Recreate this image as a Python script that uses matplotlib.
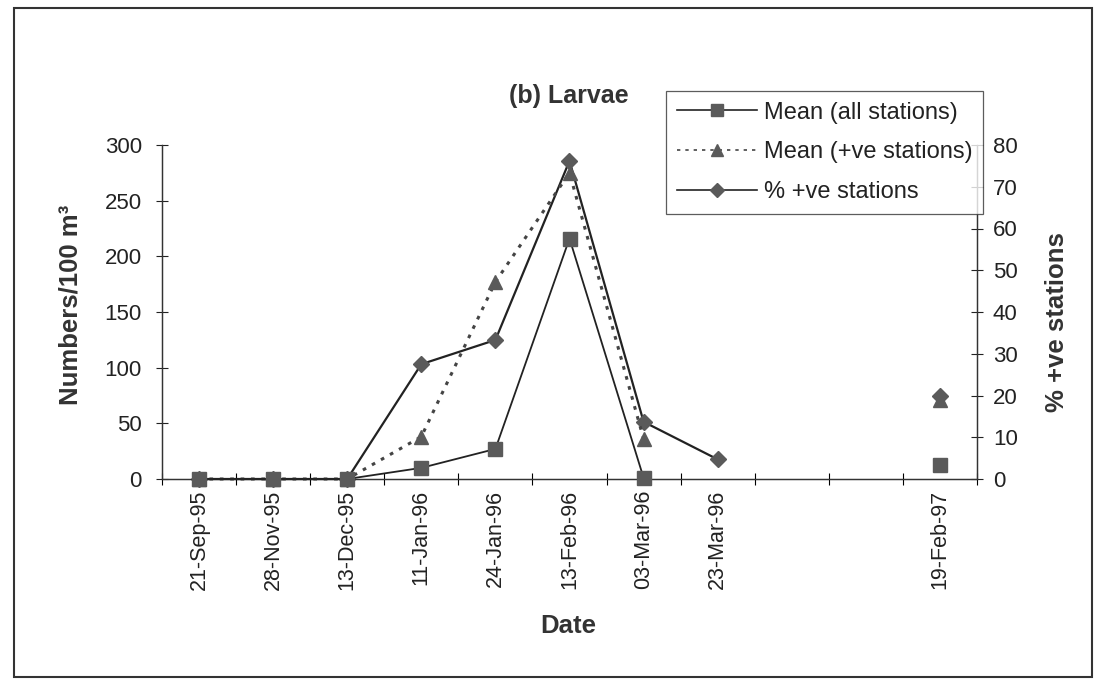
import matplotlib
matplotlib.use("Agg")
import matplotlib.pyplot as plt
from matplotlib.patches import Rectangle
from matplotlib.lines import Line2D
import numpy as np

plt.rcParams['font.family'] = ['Liberation Sans', 'DejaVu Sans']

# category slots on the x axis (two empty slots before the 1997 sample)
dates = ['21-Sep-95', '28-Nov-95', '13-Dec-95', '11-Jan-96', '24-Jan-96',
         '13-Feb-96', '03-Mar-96', '23-Mar-96', '', '', '19-Feb-97']
nan = np.nan
mean_all = [0, 0, 0, 10, 27, 216, 1, nan, nan, nan, 13]
mean_pos = [0, 0, 0, 38, 177, 275, 36, nan, nan, nan, 71]
pct_pos = [0, 0, 0, 27.5, 33.3, 76.2, 13.7, 4.7, nan, nan, 20]

txt = '#222222'
mk = '#5a5a5a'
x = np.arange(len(dates))

fig = plt.figure(figsize=(11.02, 6.83), dpi=100)
ax = fig.add_axes([162/1102, 1 - 479/683, 815/1102, 334/683])
ax2 = ax.twinx()
# left axis in front so the squares cover the zero diamonds
ax.set_zorder(ax2.get_zorder() + 1)
ax.patch.set_visible(False)

ax.plot(x, mean_pos, color='#444444', lw=2.2, ls=(0, (1.2, 2.2)), marker='^',
        ms=10, mfc=mk, mec=mk, zorder=3, clip_on=False)
ax.plot(x, mean_all, color='#222222', lw=1.3, marker='s', ms=9.5,
        mfc=mk, mec=mk, zorder=4, clip_on=False)
ax2.plot(x, pct_pos, color='#222222', lw=1.6, marker='D', ms=8,
         mfc=mk, mec=mk, zorder=3, clip_on=False)

ax.set_xlim(-0.5, len(dates) - 0.5)
ax.set_ylim(0, 300)
ax2.set_ylim(0, 80)
ax.set_yticks(np.arange(0, 301, 50))
ax2.set_yticks(np.arange(0, 81, 10))

ax.set_xticks(np.arange(-0.5, len(dates), 1))
ax.set_xticklabels([])
ax.set_xticks(x, dates, minor=True)
ax.tick_params(axis='x', which='minor', length=0, rotation=90, labelsize=15.5,
               colors=txt, pad=8)
ax.tick_params(axis='x', which='major', direction='inout', length=9, width=0.8)
ax.tick_params(axis='y', direction='inout', length=9, width=0.8, labelsize=16,
               colors=txt, pad=10)
ax2.tick_params(axis='y', direction='inout', length=9, width=0.8, labelsize=16,
                colors=txt, pad=7)

for a in (ax, ax2):
    a.spines['top'].set_visible(False)
    for s in a.spines.values():
        s.set_linewidth(0.9)
        s.set_color('#333333')

ax.set_ylabel('Numbers/100 m³', fontsize=18.5, fontweight='bold', color='#333333')
ax.yaxis.set_label_coords(-0.097, 0.52)
ax2.set_ylabel('% +ve stations', fontsize=18.5, fontweight='bold', color='#333333',
               rotation=90)
ax2.yaxis.set_label_coords(1.083, 0.47)
ax.set_xlabel('Date', fontsize=18.5, fontweight='bold', color='#333333')
ax.xaxis.set_label_coords(0.498, -0.405)

fig.text(569/1102, 1 - 96/683, '(b) Larvae', fontsize=18, fontweight='bold',
         color='#333333', ha='center', va='center')

handles = [
    Line2D([], [], color='#222222', lw=1.2, marker='s', ms=8, mfc=mk, mec=mk),
    Line2D([], [], color='#444444', lw=1.2, ls=(0, (2, 3)), marker='^', ms=9,
           mfc=mk, mec=mk),
    Line2D([], [], color='#222222', lw=1.2, marker='D', ms=7, mfc=mk, mec=mk),
]
labels = ['Mean (all stations)', 'Mean (+ve stations)', '% +ve stations']
leg = fig.legend(handles, labels, loc='upper left',
                 bbox_to_anchor=(666/1102, 1 - 91/683), fontsize=17,
                 frameon=True, fancybox=False, handlelength=3.4,
                 labelspacing=0.75, borderpad=0.45, handletextpad=0.3,
                 borderaxespad=0)
leg.get_frame().set_edgecolor('#333333')
leg.get_frame().set_linewidth(0.9)
for t in leg.get_texts():
    t.set_color(txt)

fig.patches.append(Rectangle((14/1102, 6/683), 1078/1102, 669/683,
                             transform=fig.transFigure, fill=False,
                             edgecolor='#333333', lw=1.5))

fig.savefig('out.png', dpi=100)
